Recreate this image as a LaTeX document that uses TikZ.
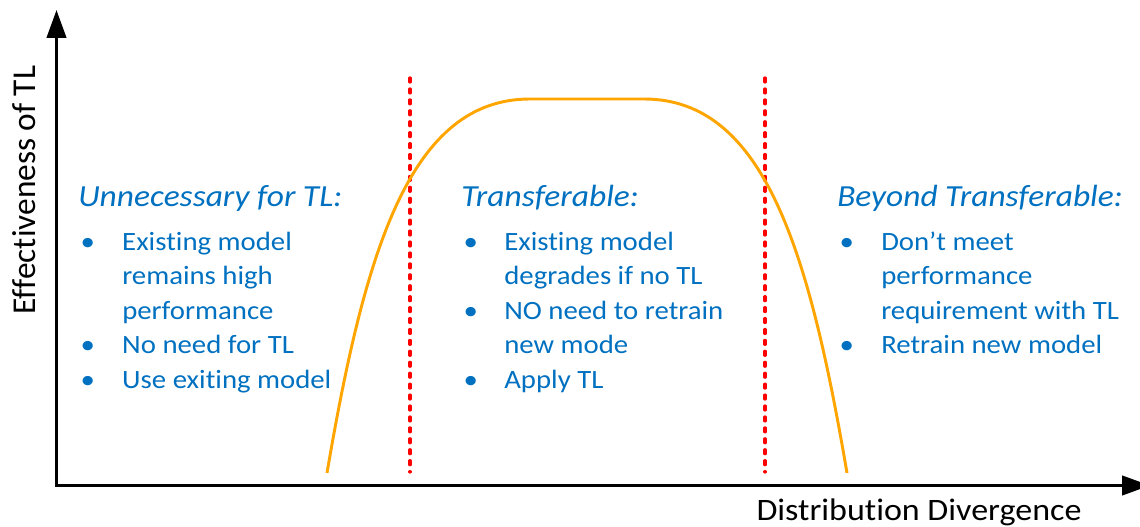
\documentclass[tikz,border=0pt]{standalone}
\usepackage{fontspec}
\setmainfont{Carlito}[Ligatures=NoCommon]
\newfontfamily\widefont{Carlito}[Ligatures=NoCommon,FakeStretch=1.09]
\usetikzlibrary{arrows.meta}
\definecolor{tlblue}{HTML}{0070C0}
\definecolor{curveorange}{HTML}{FFA500}
\definecolor{limitred}{HTML}{FF0000}
\newcommand{\bul}{\hspace*{1.8pt}•}
\newcommand{\headfont}{\fontsize{23pt}{27pt}\selectfont\itshape}
\begin{document}
\begin{tikzpicture}[x=0.75pt,y=-0.75pt,
  axis/.style={line width=2.4pt,-{Triangle[length=21pt,width=14.5pt]}},
  limit/.style={line width=2.4pt,limitred,line cap=round,dash pattern=on 3pt off 5.2pt},
  curve/.style={line width=2.2pt,curveorange},
  label/.style={inner sep=0pt,anchor=base},
  block/.style={inner sep=0pt,anchor=base west,text=tlblue,font=\widefont\fontsize{19.8pt}{25.9pt}\selectfont}]
\useasboundingbox (0,0) rectangle (1140,527);

% axes
\coordinate (ybase) at (56.5,487);
\coordinate (ytip) at (56.5,10);
\coordinate (xbase) at (55,485.5);
\coordinate (xtip) at (1150,485.5);
\draw[axis] (ybase) -- (ytip);
\draw[axis] (xbase) -- (xtip);
\node[label,rotate=90,font=\fontsize{25pt}{30pt}\selectfont] (ylab) at (36,190) {Effectiveness of TL};
\node[label,font=\widefont\fontsize{23.4pt}{28pt}\selectfont] (xlab) at (919,521) {Distribution Divergence};

% transfer limits
\coordinate (l1top) at (410,78);
\coordinate (l1bot) at (410,472);
\coordinate (l2top) at (765,78);
\coordinate (l2bot) at (765,472);
\draw[limit] (l1top) -- (l1bot);
\draw[limit] (l2top) -- (l2bot);

% effectiveness curve
\coordinate (c0) at (327,473);
\coordinate (c1) at (530,99);
\coordinate (c2) at (644,99);
\coordinate (c3) at (847,473);
\draw[curve] (c0) .. controls (365,250) and (410,99) .. (c1) -- (c2)
  .. controls (764,99) and (809,250) .. (c3);

% region descriptions
\node[block] (left) at (78,207) {\begin{tabular}[t]{@{}p{33pt}@{}l@{}}
\multicolumn{2}{@{}l@{}}{\headfont Unnecessary for TL:}\\[6.4pt]
\bul & Existing model\\
 & remains high\\
 & performance\\
\bul & No need for TL\\
\bul & Use exiting model
\end{tabular}};
\node[block] (middle) at (461,207) {\begin{tabular}[t]{@{}p{32.3pt}@{}l@{}}
\multicolumn{2}{@{}l@{}}{\headfont Transferable:}\\[6.4pt]
\bul & Existing model\\
 & degrades if no TL\\
\bul & NO need to retrain\\
 & new mode\\
\bul & Apply TL
\end{tabular}};
\node[block] (right) at (837,207) {\begin{tabular}[t]{@{}p{33pt}@{}l@{}}
\multicolumn{2}{@{}l@{}}{\headfont Beyond Transferable:}\\[6.4pt]
\bul & Don’t meet\\
 & performance\\
 & requirement with TL\\
\bul & Retrain new model
\end{tabular}};
\end{tikzpicture}
\end{document}
